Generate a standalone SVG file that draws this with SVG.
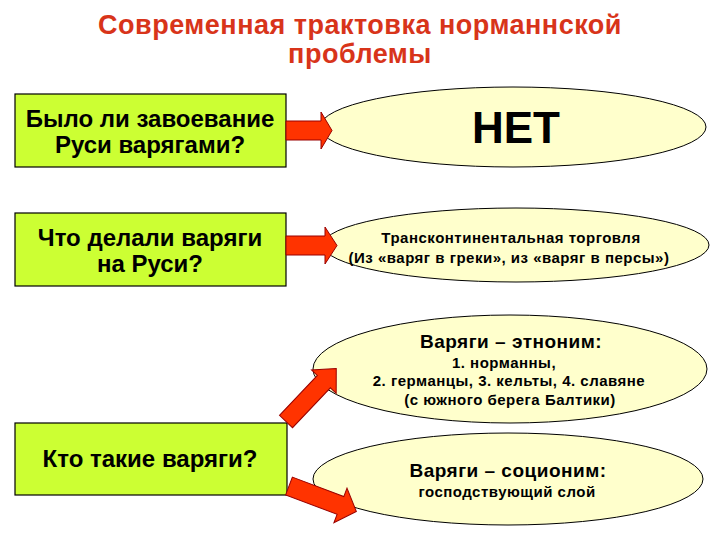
<svg xmlns="http://www.w3.org/2000/svg" width="720" height="540" viewBox="0 0 720 540">
<style>
.box{fill:#CCFF33;stroke:#000;stroke-width:1.2}
.ell{fill:#FFFFCC;stroke:#000;stroke-width:1}
.arr{fill:#FF3300;stroke:#990000;stroke-width:1}
text{font-family:"Liberation Sans",Arial,sans-serif;font-weight:bold;text-anchor:middle;fill:#000}
.title{fill:#D8341A;font-size:27px;letter-spacing:0.5px}
.q{font-size:24px}
.s{font-size:15px;letter-spacing:0.5px}
.h{font-size:19px;letter-spacing:0.5px}
</style>
<rect width="720" height="540" fill="#fff"/>
<g id="title">
<text class="title" x="360" y="34">Современная трактовка норманнской</text>
<text class="title" x="360" y="63">проблемы</text>
</g>
<g id="q1">
<rect class="box" x="15" y="94" width="271" height="73"/>
<text class="q" x="150" y="127">Было ли завоевание</text>
<text class="q" x="150" y="153">Руси варягами?</text>
</g>
<g id="q2">
<rect class="box" x="15" y="213" width="271" height="73"/>
<text class="q" x="150" y="246">Что делали варяги</text>
<text class="q" x="150" y="272">на Руси?</text>
</g>
<g id="q3">
<rect class="box" x="15" y="423" width="272" height="72"/>
<text class="q" x="150" y="467">Кто такие варяги?</text>
</g>
<g id="a1">
<ellipse class="ell" cx="513" cy="127" rx="193" ry="40"/>
<text x="516" y="143" font-size="44">НЕТ</text>
</g>
<g id="a2">
<ellipse class="ell" cx="516" cy="245" rx="193" ry="37"/>
<text class="s" x="511" y="243">Трансконтинентальная торговля</text>
<text class="s" x="509" y="263">(Из «варяг в греки», из «варяг в персы»)</text>
</g>
<g id="a3">
<ellipse class="ell" cx="510" cy="369" rx="197" ry="54"/>
<text class="h" x="511" y="348">Варяги – этноним:</text>
<text class="s" x="504" y="368">1. норманны,</text>
<text class="s" x="509" y="386">2. германцы, 3. кельты, 4. славяне</text>
<text class="s" x="510" y="405">(с южного берега Балтики)</text>
</g>
<g id="a4">
<ellipse class="ell" cx="508" cy="479" rx="195" ry="46"/>
<text class="h" x="508" y="477">Варяги – соционим:</text>
<text class="s" x="507" y="497">господствующий слой</text>
</g>
<g id="connectors">
<path class="arr" transform="translate(286,130.5)" d="M0,-9.5 L35,-9.5 L35,-18.5 L46,0 L35,18.5 L35,9.5 L0,9.5 Z"/>
<path class="arr" transform="translate(286,245.5)" d="M0,-9.5 L39,-9.5 L39,-18.5 L51,0 L39,18.5 L39,9.5 L0,9.5 Z"/>
<path class="arr" transform="translate(286,421.5) rotate(-46.5)" d="M0,-9 L55,-9 L55,-17 L73,0 L55,17 L55,9 L0,9 Z"/>
<path class="arr" transform="translate(289,486) rotate(20.7)" d="M0,-9.5 L55,-9.5 L55,-18.5 L72,0 L55,18.5 L55,9.5 L0,9.5 Z"/>
</g>
</svg>
